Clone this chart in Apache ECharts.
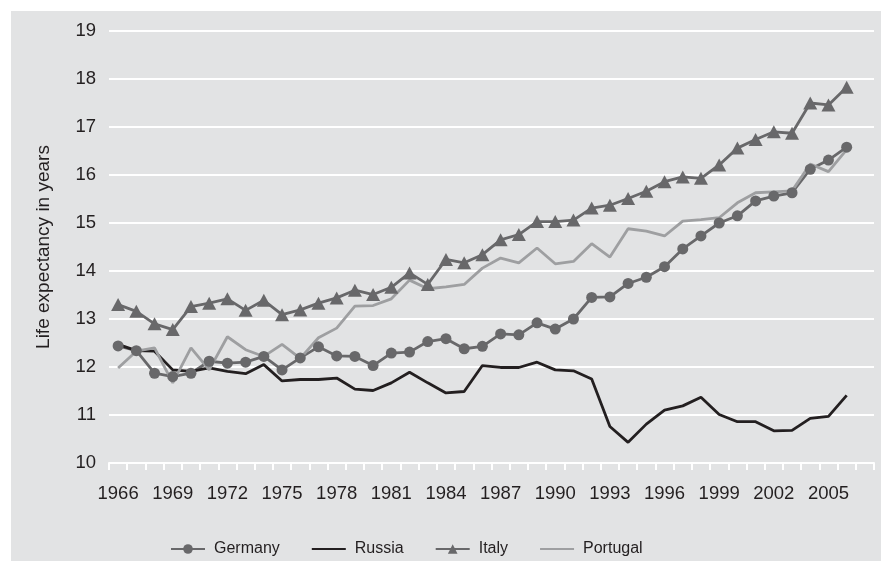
<!DOCTYPE html>
<html>
<head>
<meta charset="utf-8">
<script src="https://cdn.jsdelivr.net/npm/echarts@6/dist/echarts.min.js"></script>
<style>
  html, body { margin: 0; padding: 0; background: #fff; }
  #chart { position: absolute; left: 11px; top: 11px; width: 870px; height: 550px; background: #e2e3e4; }
</style>
</head>
<body>
<div id="chart"></div>
<script>
const years = [];
for (let y = 1966; y <= 2007; y++) years.push(String(y));

const germany = [12.44, 12.34, 11.87, 11.80, 11.87, 12.12, 12.08, 12.10, 12.22, 11.94,
  12.19, 12.42, 12.23, 12.22, 12.03, 12.29, 12.31, 12.53, 12.59, 12.38,
  12.43, 12.69, 12.67, 12.92, 12.79, 13.00, 13.45, 13.46, 13.74, 13.87,
  14.09, 14.46, 14.73, 15.00, 15.15, 15.46, 15.56, 15.63, 16.12, 16.31, 16.58];
const russia = [12.47, 12.34, 12.33, 11.94, 11.91, 11.98, 11.91, 11.86, 12.05, 11.71,
  11.74, 11.74, 11.77, 11.54, 11.51, 11.67, 11.89, 11.67, 11.46, 11.49,
  12.03, 11.99, 11.99, 12.10, 11.94, 11.92, 11.75, 10.76, 10.43, 10.81,
  11.10, 11.19, 11.37, 11.01, 10.86, 10.86, 10.67, 10.68, 10.93, 10.97, 11.41];
const italy = [13.30, 13.16, 12.90, 12.78, 13.26, 13.33, 13.42, 13.18, 13.39, 13.09,
  13.19, 13.33, 13.44, 13.60, 13.51, 13.66, 13.96, 13.72, 14.24, 14.17,
  14.34, 14.65, 14.76, 15.03, 15.03, 15.06, 15.31, 15.37, 15.51, 15.66,
  15.86, 15.96, 15.93, 16.21, 16.56, 16.74, 16.90, 16.87, 17.50, 17.46, 17.83];
const portugal = [11.98, 12.33, 12.40, 11.67, 12.40, 11.94, 12.63, 12.36, 12.22, 12.47,
  12.18, 12.61, 12.81, 13.27, 13.28, 13.42, 13.81, 13.63, 13.67, 13.72,
  14.06, 14.27, 14.17, 14.48, 14.15, 14.20, 14.57, 14.29, 14.88, 14.83,
  14.73, 15.04, 15.07, 15.11, 15.42, 15.63, 15.65, 15.67, 16.23, 16.07, 16.53];

const font = "'Liberation Sans', Arial, sans-serif";
const textColor = '#231f20';
const midGray = '#68686a';
const lightGray = '#9e9fa1';

const chart = echarts.init(document.getElementById('chart'));
chart.setOption({
  animation: false,
  textStyle: { fontFamily: font },
  grid: { left: 98, right: 7, top: 20, bottom: 98 },
  legend: {
    top: 525,
    left: 154,
    itemWidth: 34,
    itemHeight: 12,
    itemGap: 31,
    textStyle: { fontFamily: font, fontSize: 16, color: textColor, padding: [0, 0, 0, 4] },
    data: [
      { name: 'Germany' },
      { name: 'Russia', itemStyle: { opacity: 0 } },
      { name: 'Italy' },
      { name: 'Portugal', itemStyle: { opacity: 0 } }
    ]
  },
  xAxis: {
    type: 'category',
    data: years,
    boundaryGap: true,
    axisLine: { lineStyle: { color: '#fff', width: 2 } },
    axisTick: { show: true, interval: 0, length: 7, lineStyle: { color: '#fff', width: 2 } },
    axisLabel: { interval: 2, color: textColor, fontSize: 18.5, fontFamily: font, margin: 21 }
  },
  yAxis: {
    type: 'value',
    min: 10,
    max: 19,
    interval: 1,
    name: 'Life expectancy in years',
    nameLocation: 'middle',
    nameRotate: 90,
    nameGap: 56,
    nameTextStyle: { color: textColor, fontSize: 19, fontFamily: font },
    axisLine: { show: false },
    axisTick: { show: false },
    axisLabel: { color: textColor, fontSize: 18.5, fontFamily: font, margin: 13 },
    splitLine: { lineStyle: { color: '#fff', width: 2 } }
  },
  series: [
    {
      name: 'Germany', type: 'line', data: germany,
      symbol: 'circle', symbolSize: 11, showAllSymbol: true,
      lineStyle: { color: midGray, width: 2.8 },
      itemStyle: { color: midGray }
    },
    {
      name: 'Russia', type: 'line', data: russia,
      symbol: 'circle', showSymbol: false,
      lineStyle: { color: textColor, width: 2.8 },
      itemStyle: { color: textColor }
    },
    {
      name: 'Italy', type: 'line', data: italy,
      symbol: 'triangle', symbolSize: [14, 13], showAllSymbol: true,
      lineStyle: { color: midGray, width: 2.8 },
      itemStyle: { color: midGray }
    },
    {
      name: 'Portugal', type: 'line', data: portugal,
      symbol: 'circle', showSymbol: false,
      lineStyle: { color: lightGray, width: 2.8 },
      itemStyle: { color: lightGray }
    }
  ]
});
</script>
</body>
</html>
